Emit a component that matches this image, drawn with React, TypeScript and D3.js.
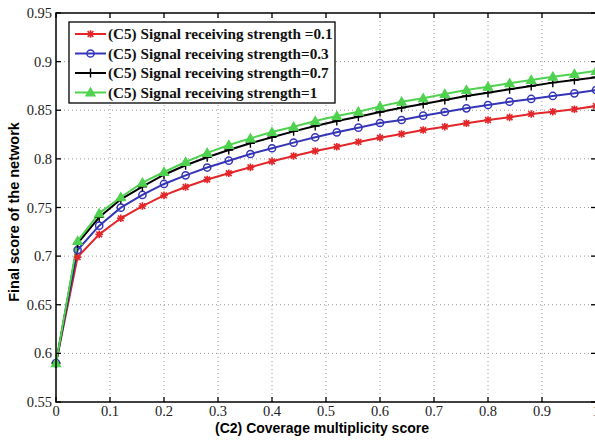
import React from "react";
import * as d3 from "d3";

const xValues = [0, 0.04, 0.08, 0.12, 0.16, 0.2, 0.24, 0.28, 0.32, 0.36, 0.4, 0.44, 0.48, 0.52, 0.56, 0.6, 0.64, 0.68, 0.72, 0.76, 0.8, 0.84, 0.88, 0.92, 0.96, 1.0];
const red = [0.59, 0.699, 0.7224, 0.7389, 0.7515, 0.7625, 0.7711, 0.7788, 0.7852, 0.7913, 0.7975, 0.803, 0.8081, 0.8125, 0.8174, 0.8218, 0.8256, 0.8297, 0.8331, 0.8366, 0.84, 0.8427, 0.8461, 0.8485, 0.851, 0.8544];
const blue = [0.59, 0.7063, 0.7313, 0.7498, 0.7629, 0.7742, 0.7831, 0.7911, 0.7981, 0.805, 0.8109, 0.8167, 0.8222, 0.8273, 0.8321, 0.8369, 0.84, 0.8444, 0.8482, 0.852, 0.8554, 0.8588, 0.8616, 0.8647, 0.8674, 0.8708];
const black = [0.59, 0.713, 0.7399, 0.7584, 0.7714, 0.7837, 0.7934, 0.8017, 0.8091, 0.816, 0.8222, 0.8283, 0.8338, 0.8389, 0.8434, 0.8482, 0.8526, 0.8564, 0.8605, 0.8647, 0.8681, 0.8715, 0.8749, 0.8784, 0.8811, 0.8839];
const green = [0.59, 0.7156, 0.744, 0.7605, 0.7755, 0.7865, 0.7968, 0.8062, 0.8143, 0.8211, 0.8276, 0.8331, 0.8389, 0.8441, 0.8485, 0.854, 0.8588, 0.8623, 0.8667, 0.8708, 0.8742, 0.8777, 0.8811, 0.8845, 0.8873, 0.8904];

const seriesNames = [
  "(C5) Signal receiving strength =0.1",
  "(C5) Signal receiving strength=0.3",
  "(C5) Signal receiving strength=0.7",
  "(C5) Signal receiving strength=1",
];
const seriesColors = ["#e3262a", "#3535b8", "#000000", "#4fd24f"];
const seriesMarkers = ["star", "circle", "plus", "triangle"];
const seriesValues = [red, blue, black, green];

const xTicks = [0, 0.1, 0.2, 0.3, 0.4, 0.5, 0.6, 0.7, 0.8, 0.9, 1];
const yTicks = [0.55, 0.6, 0.65, 0.7, 0.75, 0.8, 0.85, 0.9, 0.95];

const W = 595;
const H = 440;
const L = 56;
const R = 596;
const T = 13;
const B = 402;

function Marker({ type, x, y, color }: { type: string; x: number; y: number; color: string }) {
  if (type === "circle") {
    return <circle cx={x} cy={y} r={3.6} fill="none" stroke={color} strokeWidth={1.5} />;
  }
  if (type === "plus") {
    const s = 4.5;
    return (
      <path d={`M${x - s},${y}H${x + s}M${x},${y - s}V${y + s}`} stroke={color} strokeWidth={1.4} fill="none" />
    );
  }
  if (type === "triangle") {
    const s = 4.6;
    return (
      <path
        d={`M${x},${y - s}L${x + s},${y + s * 0.75}L${x - s},${y + s * 0.75}Z`}
        fill={color}
        stroke={color}
        strokeWidth={1.2}
      />
    );
  }
  const s = 3.8;
  const d = s * 0.75;
  return (
    <path
      d={`M${x - s},${y}H${x + s}M${x},${y - s}V${y + s}M${x - d},${y - d}L${x + d},${y + d}M${x - d},${y + d}L${x + d},${y - d}`}
      stroke={color}
      strokeWidth={1.6}
      fill="none"
    />
  );
}

const serif = "Liberation Serif, Times New Roman, serif";
const sans = "Liberation Sans, Arial, sans-serif";

export default function App() {
  const x = d3.scaleLinear().domain([0, 1]).range([L, R]);
  const y = d3.scaleLinear().domain([0.55, 0.95]).range([B, T]);
  const line = d3
    .line<number>()
    .x((_, i) => x(xValues[i]))
    .y((d) => y(d));

  return (
    <svg
      width={W}
      height={H}
      style={{ position: "absolute", left: 0, top: 0, background: "#fff" }}
    >
      <rect x={0} y={0} width={W} height={H} fill="#fff" />
      <g stroke="#9a9a9a" strokeWidth={1} strokeDasharray="1,3">
        {xTicks.slice(1, -1).map((t) => (
          <line key={"gx" + t} x1={x(t)} x2={x(t)} y1={T} y2={B} />
        ))}
        {yTicks.slice(1, -1).map((t) => (
          <line key={"gy" + t} x1={L} x2={R} y1={y(t)} y2={y(t)} />
        ))}
      </g>
      {seriesValues.map((vals, si) => (
        <path key={"l" + si} d={line(vals) || ""} fill="none" stroke={seriesColors[si]} strokeWidth={2} />
      ))}
      {seriesValues.map((vals, si) => (
        <g key={"m" + si}>
          {vals.map((v, i) => (
            <Marker key={i} type={seriesMarkers[si]} x={x(xValues[i])} y={y(v)} color={seriesColors[si]} />
          ))}
        </g>
      ))}
      <rect x={L} y={T} width={R - L} height={B - T} fill="none" stroke="#000" strokeWidth={1.5} />
      <g stroke="#000" strokeWidth={1.3}>
        {xTicks.map((t) => (
          <g key={"tx" + t}>
            <line x1={x(t)} x2={x(t)} y1={B} y2={B - 5} />
            <line x1={x(t)} x2={x(t)} y1={T} y2={T + 5} />
          </g>
        ))}
        {yTicks.map((t) => (
          <g key={"ty" + t}>
            <line x1={L} x2={L + 5} y1={y(t)} y2={y(t)} />
            <line x1={R} x2={R - 5} y1={y(t)} y2={y(t)} />
          </g>
        ))}
      </g>
      {xTicks.map((t) => (
        <text key={"lx" + t} x={x(t)} y={B + 14} textAnchor="middle" fontFamily={serif} fontSize={14.5} fill="#222">
          {d3.format("")(t)}
        </text>
      ))}
      {yTicks.map((t) => (
        <text key={"ly" + t} x={L - 4} y={y(t) + 5} textAnchor="end" fontFamily={serif} fontSize={14.5} fill="#222">
          {d3.format("")(t)}
        </text>
      ))}
      <text x={322} y={433} textAnchor="middle" fontFamily={sans} fontWeight="bold" fontSize={14} fill="#000">
        (C2) Coverage multiplicity score
      </text>
      <text
        transform={`translate(19,212) rotate(-90)`}
        textAnchor="middle"
        fontFamily={sans}
        fontWeight="bold"
        fontSize={14.5}
        fill="#000"
      >
        Final score of the network
      </text>
      <g>
        <rect x={69} y={22} width={266} height={81} fill="#fff" stroke="#000" strokeWidth={1.3} />
        {seriesNames.map((name, i) => {
          const cy = 34 + i * 19.5;
          return (
            <g key={"lg" + i}>
              <line x1={75} x2={106} y1={cy} y2={cy} stroke={seriesColors[i]} strokeWidth={2} />
              <Marker type={seriesMarkers[i]} x={90.5} y={cy} color={seriesColors[i]} />
              <text x={108} y={cy + 5} fontFamily={serif} fontWeight="bold" fontSize={15.2} fill="#111">
                {name}
              </text>
            </g>
          );
        })}
      </g>
    </svg>
  );
}
